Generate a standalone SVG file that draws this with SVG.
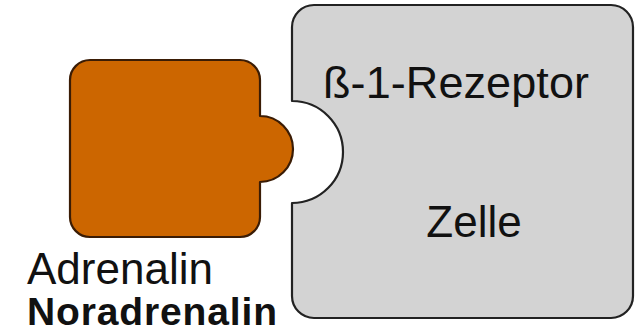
<svg xmlns="http://www.w3.org/2000/svg" width="635" height="335" viewBox="0 0 635 335">
  <style>
    .shape { stroke-width: 2.2; stroke-linejoin: round; }
    .label { font-family: "Liberation Sans", Arial, sans-serif; fill: #111; }
  </style>
  <rect width="635" height="335" fill="#ffffff"/>
  <!-- receptor cell with binding notch -->
  <g id="zelle">
    <path class="shape" fill="#d3d3d3" stroke="#222"
          d="M314,5 H611 A22,22 0 0 1 633,27 V296 A22,22 0 0 1 611,318 H314 A22,22 0 0 1 292,296 V203 A51,51 0 0 0 292,101 V27 A22,22 0 0 1 314,5 Z"/>
    <text class="label" x="456" y="98" font-size="45" text-anchor="middle" textLength="266">ß-1-Rezeptor</text>
    <text class="label" x="474" y="237" font-size="44" text-anchor="middle">Zelle</text>
  </g>
  <!-- ligand with docking bump -->
  <g id="ligand">
    <path class="shape" fill="#cc6600" stroke="#3a1c05"
          d="M90,60 H240 A20,20 0 0 1 260,80 V116 A33,33 0 0 1 260,182 V217 A20,20 0 0 1 240,237 H90 A20,20 0 0 1 70,217 V80 A20,20 0 0 1 90,60 Z"/>
    <text class="label" x="27" y="284" font-size="44">Adrenalin</text>
    <text class="label" x="27" y="325" font-size="39" font-weight="bold" textLength="250">Noradrenalin</text>
  </g>
  <g id="connectors"/>
</svg>
